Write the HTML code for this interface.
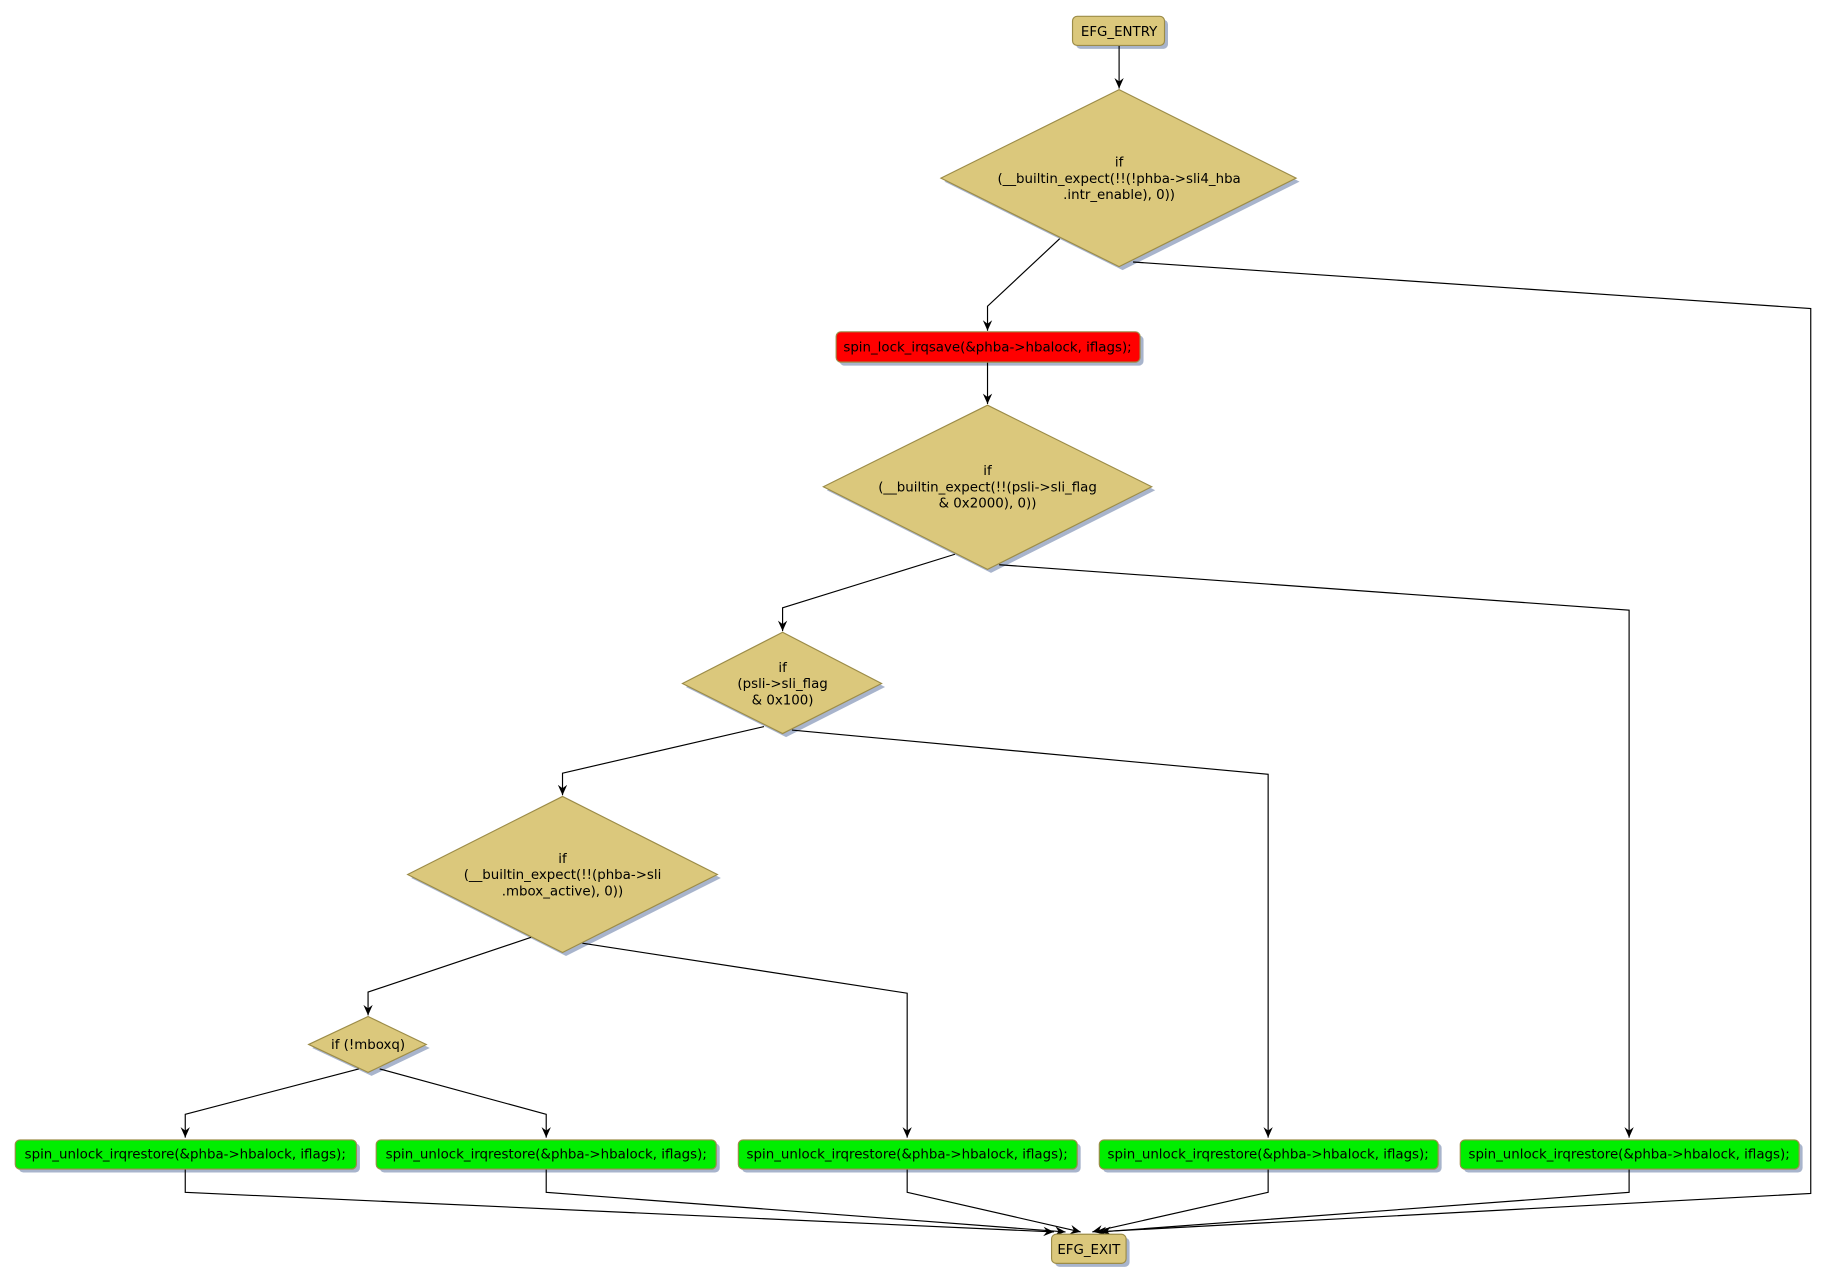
<!DOCTYPE html>
<html><head><meta charset="utf-8"><style>html,body{margin:0;padding:0;background:#fff}svg{display:block}</style></head>
<body>
<svg width="1826" height="1282" viewBox="0 0 1568 1101" xmlns="http://www.w3.org/2000/svg" font-family="'DejaVu Sans','Liberation Sans',sans-serif" font-size="11.5">
<defs><marker id="a" markerWidth="10" markerHeight="10" refX="9" refY="5" orient="auto" markerUnits="userSpaceOnUse"><path d="M0,1 L9,5 L0,9 L3,5 z" fill="#000"/></marker></defs>
<g fill="#a8b4cc">
<rect x="924" y="17" width="79" height="25" rx="4"/>
<polygon points="811,156 964,80 1116,156 964,232"/>
<rect x="721" y="288" width="261" height="26" rx="4"/>
<polygon points="710,421 851,351 992,421 851,492"/>
<polygon points="589,590 675,546 760,590 675,633"/>
<polygon points="353,754 486,687 619,754 486,821"/>
<polygon points="268,900 319,876 369,900 319,924"/>
<rect x="16" y="982" width="293" height="25" rx="4"/>
<rect x="326" y="982" width="292" height="25" rx="4"/>
<rect x="637" y="982" width="291" height="25" rx="4"/>
<rect x="947" y="982" width="291" height="25" rx="4"/>
<rect x="1257" y="982" width="291" height="25" rx="4"/>
<rect x="906" y="1063" width="64" height="25" rx="4"/>
</g>
<g fill="none" stroke="#000" stroke-width="1">
<path d="M961,39 V76" marker-end="url(#a)"/>
<path d="M910,205 L848,263 V284" marker-end="url(#a)"/>
<path d="M973,225 L1555,265 V1025 L941,1058" marker-end="url(#a)"/>
<path d="M848,311 V347" marker-end="url(#a)"/>
<path d="M820,476 L672,522 V542" marker-end="url(#a)"/>
<path d="M858,485 L1399,524 V977" marker-end="url(#a)"/>
<path d="M656,624 L483,664 V683" marker-end="url(#a)"/>
<path d="M680,627 L1089,665 V977" marker-end="url(#a)"/>
<path d="M456,805 L316,852 V872" marker-end="url(#a)"/>
<path d="M500,810 L779,853 V977" marker-end="url(#a)"/>
<path d="M308,918 L159,957 V977" marker-end="url(#a)"/>
<path d="M326,918 L469,957 V977" marker-end="url(#a)"/>
<path d="M159,1004 V1024 L905,1058" marker-end="url(#a)"/>
<path d="M469,1004 V1024 L915,1058" marker-end="url(#a)"/>
<path d="M779,1004 V1024 L928,1058" marker-end="url(#a)"/>
<path d="M1089,1004 V1024 L938,1058" marker-end="url(#a)"/>
<path d="M1399,1004 V1024 L945,1058" marker-end="url(#a)"/>
</g>
<g stroke="#9c8c48" stroke-width="1">
<rect x="921" y="14" width="79" height="25" rx="4" fill="#dbc87c"/>
<polygon points="808,153 961,77 1113,153 961,229" fill="#dbc87c"/>
<rect x="718" y="285" width="261" height="26" rx="4" fill="#ff0000"/>
<polygon points="707,418 848,348 989,418 848,489" fill="#dbc87c"/>
<polygon points="586,587 672,543 757,587 672,630" fill="#dbc87c"/>
<polygon points="350,751 483,684 616,751 483,818" fill="#dbc87c"/>
<polygon points="265,897 316,873 366,897 316,921" fill="#dbc87c"/>
<rect x="13" y="979" width="293" height="25" rx="4" fill="#00ee00"/>
<rect x="323" y="979" width="292" height="25" rx="4" fill="#00ee00"/>
<rect x="634" y="979" width="291" height="25" rx="4" fill="#00ee00"/>
<rect x="944" y="979" width="291" height="25" rx="4" fill="#00ee00"/>
<rect x="1254" y="979" width="291" height="25" rx="4" fill="#00ee00"/>
<rect x="903" y="1060" width="64" height="25" rx="4" fill="#dbc87c"/>
</g>
<g fill="#000" text-anchor="middle">
<text x="961" y="31">EFG_ENTRY</text>
<text x="961" y="143">if</text>
<text x="961" y="157">(__builtin_expect(!!(!phba-&gt;sli4_hba</text>
<text x="961" y="171">.intr_enable), 0))</text>
<text x="848" y="302">spin_lock_irqsave(&amp;phba-&gt;hbalock, iflags);</text>
<text x="848" y="408">if</text>
<text x="848" y="422">(__builtin_expect(!!(psli-&gt;sli_flag</text>
<text x="848" y="436">&amp; 0x2000), 0))</text>
<text x="672" y="577">if</text>
<text x="672" y="591">(psli-&gt;sli_flag</text>
<text x="672" y="605">&amp; 0x100)</text>
<text x="483" y="741">if</text>
<text x="483" y="755">(__builtin_expect(!!(phba-&gt;sli</text>
<text x="483" y="769">.mbox_active), 0))</text>
<text x="316" y="901">if (!mboxq)</text>
<text x="159" y="995">spin_unlock_irqrestore(&amp;phba-&gt;hbalock, iflags);</text>
<text x="469" y="995">spin_unlock_irqrestore(&amp;phba-&gt;hbalock, iflags);</text>
<text x="779" y="995">spin_unlock_irqrestore(&amp;phba-&gt;hbalock, iflags);</text>
<text x="1089" y="995">spin_unlock_irqrestore(&amp;phba-&gt;hbalock, iflags);</text>
<text x="1399" y="995">spin_unlock_irqrestore(&amp;phba-&gt;hbalock, iflags);</text>
<text x="935" y="1077">EFG_EXIT</text>
</g>
</svg>
</body></html>
